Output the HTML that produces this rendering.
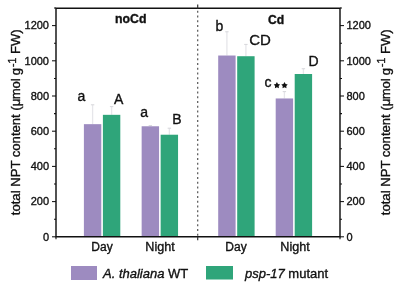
<!DOCTYPE html><html><head><meta charset="utf-8"><style>html,body{margin:0;padding:0;background:#fff;width:400px;height:287px;overflow:hidden}svg{display:block;will-change:transform}text{font-family:"Liberation Sans",sans-serif;fill:#111;stroke:#111;stroke-width:0.35px}</style></head><body>
<svg width="400" height="287" viewBox="0 0 400 287">
<line x1="92.60000000000001" y1="104.80" x2="92.60000000000001" y2="124.16" stroke="#e6e6ea" stroke-width="1.3"/>
<line x1="90.9" y1="104.80" x2="94.30000000000001" y2="104.80" stroke="#d9d9dd" stroke-width="1.1"/>
<rect x="83.9" y="124.16" width="17.4" height="112.64" fill="#9d8bc0"/>
<line x1="111.60000000000001" y1="106.56" x2="111.60000000000001" y2="114.83" stroke="#e6e6ea" stroke-width="1.3"/>
<line x1="109.9" y1="106.56" x2="113.30000000000001" y2="106.56" stroke="#d9d9dd" stroke-width="1.1"/>
<rect x="102.9" y="114.83" width="17.4" height="121.97" fill="#2fa57a"/>
<line x1="150.35" y1="125.57" x2="150.35" y2="126.27" stroke="#e6e6ea" stroke-width="1.3"/>
<line x1="148.65" y1="125.57" x2="152.04999999999998" y2="125.57" stroke="#d9d9dd" stroke-width="1.1"/>
<rect x="141.65" y="126.27" width="17.4" height="110.53" fill="#9d8bc0"/>
<line x1="169.35" y1="128.21" x2="169.35" y2="134.72" stroke="#e6e6ea" stroke-width="1.3"/>
<line x1="167.65" y1="128.21" x2="171.04999999999998" y2="128.21" stroke="#d9d9dd" stroke-width="1.1"/>
<rect x="160.65" y="134.72" width="17.4" height="102.08" fill="#2fa57a"/>
<line x1="226.9" y1="31.76" x2="226.9" y2="55.52" stroke="#e6e6ea" stroke-width="1.3"/>
<line x1="225.20000000000002" y1="31.76" x2="228.6" y2="31.76" stroke="#d9d9dd" stroke-width="1.1"/>
<rect x="218.20000000000002" y="55.52" width="17.4" height="181.28" fill="#9d8bc0"/>
<line x1="245.9" y1="44.43" x2="245.9" y2="56.22" stroke="#e6e6ea" stroke-width="1.3"/>
<line x1="244.20000000000002" y1="44.43" x2="247.6" y2="44.43" stroke="#d9d9dd" stroke-width="1.1"/>
<rect x="237.20000000000002" y="56.22" width="17.4" height="180.58" fill="#2fa57a"/>
<line x1="284.4" y1="91.60" x2="284.4" y2="98.46" stroke="#e6e6ea" stroke-width="1.3"/>
<line x1="282.7" y1="91.60" x2="286.09999999999997" y2="91.60" stroke="#d9d9dd" stroke-width="1.1"/>
<rect x="275.7" y="98.46" width="17.4" height="138.34" fill="#9d8bc0"/>
<line x1="303.4" y1="68.72" x2="303.4" y2="74.00" stroke="#e6e6ea" stroke-width="1.3"/>
<line x1="301.7" y1="68.72" x2="305.09999999999997" y2="68.72" stroke="#d9d9dd" stroke-width="1.1"/>
<rect x="294.7" y="74.00" width="17.4" height="162.80" fill="#2fa57a"/>
<path d="M56 8.3 H340 V236.8 H56 Z" fill="none" stroke="#111" stroke-width="1.45"/><line x1="56" y1="236.8" x2="56" y2="239.2" stroke="#111" stroke-width="1.1"/><line x1="340" y1="236.8" x2="340" y2="239.2" stroke="#111" stroke-width="1.1"/>
<line x1="197.7" y1="10.84" x2="197.7" y2="236" stroke="#555" stroke-width="1.2" stroke-dasharray="2 2.745"/>
<line x1="197.7" y1="4.5" x2="197.7" y2="8.4" stroke="#333" stroke-width="1.2"/>
<line x1="197.7" y1="236.8" x2="197.7" y2="240.2" stroke="#333" stroke-width="1.2"/>
<line x1="52" y1="236.80" x2="56" y2="236.80" stroke="#111" stroke-width="1.05"/>
<line x1="340" y1="236.80" x2="344" y2="236.80" stroke="#111" stroke-width="1.05"/>
<text x="49" y="240.50" font-size="11" text-anchor="end">0</text>
<text x="346.5" y="240.50" font-size="11">0</text>
<line x1="54" y1="219.20" x2="56" y2="219.20" stroke="#111" stroke-width="1.05"/>
<line x1="340" y1="219.20" x2="342" y2="219.20" stroke="#111" stroke-width="1.05"/>
<line x1="52" y1="201.60" x2="56" y2="201.60" stroke="#111" stroke-width="1.05"/>
<line x1="340" y1="201.60" x2="344" y2="201.60" stroke="#111" stroke-width="1.05"/>
<text x="49" y="205.30" font-size="11" text-anchor="end">200</text>
<text x="346.5" y="205.30" font-size="11">200</text>
<line x1="54" y1="184.00" x2="56" y2="184.00" stroke="#111" stroke-width="1.05"/>
<line x1="340" y1="184.00" x2="342" y2="184.00" stroke="#111" stroke-width="1.05"/>
<line x1="52" y1="166.40" x2="56" y2="166.40" stroke="#111" stroke-width="1.05"/>
<line x1="340" y1="166.40" x2="344" y2="166.40" stroke="#111" stroke-width="1.05"/>
<text x="49" y="170.10" font-size="11" text-anchor="end">400</text>
<text x="346.5" y="170.10" font-size="11">400</text>
<line x1="54" y1="148.80" x2="56" y2="148.80" stroke="#111" stroke-width="1.05"/>
<line x1="340" y1="148.80" x2="342" y2="148.80" stroke="#111" stroke-width="1.05"/>
<line x1="52" y1="131.20" x2="56" y2="131.20" stroke="#111" stroke-width="1.05"/>
<line x1="340" y1="131.20" x2="344" y2="131.20" stroke="#111" stroke-width="1.05"/>
<text x="49" y="134.90" font-size="11" text-anchor="end">600</text>
<text x="346.5" y="134.90" font-size="11">600</text>
<line x1="54" y1="113.60" x2="56" y2="113.60" stroke="#111" stroke-width="1.05"/>
<line x1="340" y1="113.60" x2="342" y2="113.60" stroke="#111" stroke-width="1.05"/>
<line x1="52" y1="96.00" x2="56" y2="96.00" stroke="#111" stroke-width="1.05"/>
<line x1="340" y1="96.00" x2="344" y2="96.00" stroke="#111" stroke-width="1.05"/>
<text x="49" y="99.70" font-size="11" text-anchor="end">800</text>
<text x="346.5" y="99.70" font-size="11">800</text>
<line x1="54" y1="78.40" x2="56" y2="78.40" stroke="#111" stroke-width="1.05"/>
<line x1="340" y1="78.40" x2="342" y2="78.40" stroke="#111" stroke-width="1.05"/>
<line x1="52" y1="60.80" x2="56" y2="60.80" stroke="#111" stroke-width="1.05"/>
<line x1="340" y1="60.80" x2="344" y2="60.80" stroke="#111" stroke-width="1.05"/>
<text x="49" y="64.50" font-size="11" text-anchor="end">1000</text>
<text x="346.5" y="64.50" font-size="11">1000</text>
<line x1="54" y1="43.20" x2="56" y2="43.20" stroke="#111" stroke-width="1.05"/>
<line x1="340" y1="43.20" x2="342" y2="43.20" stroke="#111" stroke-width="1.05"/>
<line x1="52" y1="25.60" x2="56" y2="25.60" stroke="#111" stroke-width="1.05"/>
<line x1="340" y1="25.60" x2="344" y2="25.60" stroke="#111" stroke-width="1.05"/>
<text x="49" y="29.30" font-size="11" text-anchor="end">1200</text>
<text x="346.5" y="29.30" font-size="11">1200</text>
<line x1="54" y1="8.00" x2="56" y2="8.00" stroke="#111" stroke-width="1.05"/>
<line x1="340" y1="8.00" x2="342" y2="8.00" stroke="#111" stroke-width="1.05"/>
<text transform="translate(20.3,215.2) rotate(-90)" font-size="13.1">total NPT content (μ<tspan dx="-0.6">mol</tspan><tspan dx="-0.7"> g</tspan><tspan dx="1.0" dy="-4.3" font-size="10.5">-1</tspan><tspan dy="4.3"> FW)</tspan></text>
<text transform="translate(389.6,215.2) rotate(-90)" font-size="13.1">total NPT content (μ<tspan dx="-0.6">mol</tspan><tspan dx="-0.7"> g</tspan><tspan dx="1.0" dy="-4.3" font-size="10.5">-1</tspan><tspan dy="4.3"> FW)</tspan></text>
<text x="115" y="23.4" font-size="11.9" font-weight="bold" textLength="31.5" lengthAdjust="spacingAndGlyphs">noCd</text>
<text x="267.9" y="23.5" font-size="12" font-weight="bold" textLength="16.2" lengthAdjust="spacingAndGlyphs">Cd</text>
<text x="77.5" y="101.2" font-size="14">a</text>
<text x="114" y="104.3" font-size="14">A</text>
<text x="140.3" y="116.8" font-size="14">a</text>
<text x="172.3" y="124.3" font-size="14">B</text>
<text x="215.4" y="31.1" font-size="14">b</text>
<text x="249.2" y="44.75" font-size="15">CD</text>
<text x="264.5" y="87" font-size="14">c</text>
<polygon points="276.90,82.10 277.99,84.00 280.13,84.45 278.66,86.07 278.90,88.25 276.90,87.35 274.90,88.25 275.14,86.07 273.67,84.45 275.81,84.00" fill="#111"/>
<polygon points="284.50,82.10 285.59,84.00 287.73,84.45 286.26,86.07 286.50,88.25 284.50,87.35 282.50,88.25 282.74,86.07 281.27,84.45 283.41,84.00" fill="#111"/>
<text x="308.6" y="66.3" font-size="14">D</text>
<text x="102" y="250.8" font-size="12" text-anchor="middle">Day</text>
<text x="160" y="250.8" font-size="12.6" text-anchor="middle">Night</text>
<text x="236" y="250.8" font-size="12" text-anchor="middle">Day</text>
<text x="295" y="250.8" font-size="12.6" text-anchor="middle">Night</text>
<rect x="71" y="266" width="26" height="14" fill="#9d8bc0"/>
<rect x="206" y="266" width="27" height="13.5" fill="#2fa57a"/>
<text x="103" y="278" font-size="13"><tspan font-style="italic">A. thaliana</tspan> WT</text>
<text x="245" y="278" font-size="13"><tspan font-style="italic">psp-17</tspan> mutant</text>
</svg></body></html>
